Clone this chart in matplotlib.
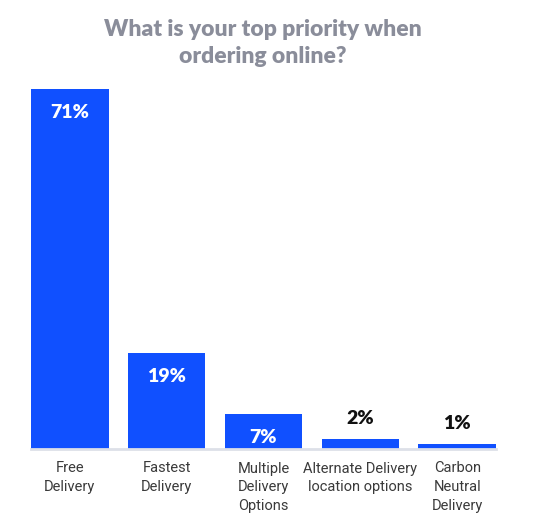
import matplotlib
matplotlib.use("Agg")
import matplotlib.pyplot as plt

# chart data
categories = ["Free\nDelivery", "Fastest\nDelivery", "Multiple\nDelivery\nOptions",
	"Alternate Delivery\nlocation options", "Carbon\nNeutral\nDelivery"]
shares = [71, 19, 7, 2, 1]
labels = ["71%", "19%", "7%", "2%", "1%"]

BLUE = "#1050FF"
TITLE_GREY = "#8a8d9a"
TEXT = "#3a3a3a"

fig = plt.figure(figsize=(5.59, 5.22), dpi=100)
ax = fig.add_axes([31/559, 73/522, 465/559, 360/522])

x = range(len(shares))
ax.bar(x, shares, width=0.8, color=BLUE, zorder=2)
ax.set_xlim(-0.4, 4.4)
ax.set_ylim(0, 71)

# value labels: inside tall bars, above short ones
for i, (v, lab) in enumerate(zip(shares, labels)):
	if v >= 5:
		ax.annotate(lab, (i, v), xytext=(0, -24), textcoords="offset pixels",
			ha="center", va="center", color="white", fontsize=14,
			fontweight="heavy", family="Lato")
	else:
		ax.annotate(lab, (i, v), xytext=(0, 20), textcoords="offset pixels",
			ha="center", va="center", color="#111111", fontsize=14,
			fontweight="heavy", family="Lato")

for side in ["top", "right", "left"]:
	ax.spines[side].set_visible(False)
ax.spines["bottom"].set_color("#dde0e8")
ax.spines["bottom"].set_linewidth(2)
ax.set_yticks([])
ax.set_xticks(list(x))
ax.set_xticklabels(categories, fontsize=10.5, color=TEXT, family="Roboto",
	linespacing=1.45)
ax.tick_params(axis="x", length=0, pad=9)

fig.text(263/559, 1 - 43/522, "What is your top priority when\nordering online?",
	ha="center", va="center", fontsize=16.5, fontweight="heavy", color=TITLE_GREY,
	family="Lato", linespacing=1.4)

fig.savefig("out.png", dpi=100)
